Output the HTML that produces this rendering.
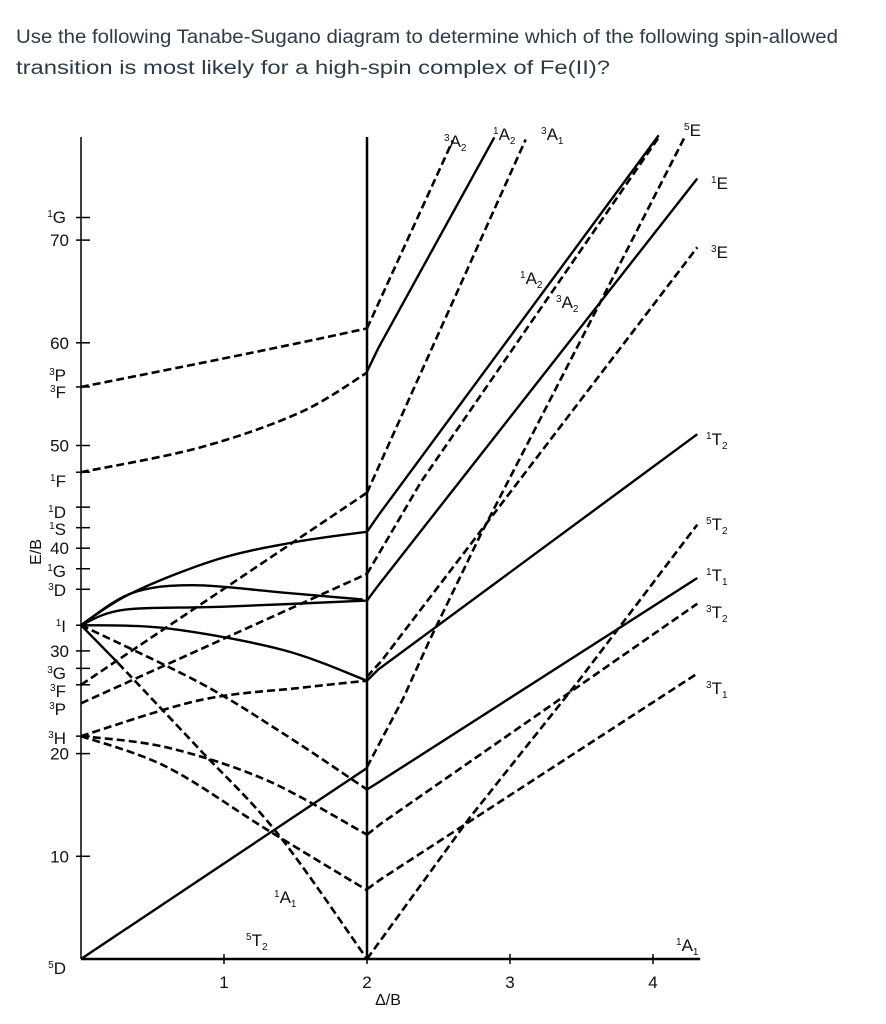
<!DOCTYPE html>
<html><head><meta charset="utf-8">
<style>
html,body{margin:0;padding:0;background:#fff;width:886px;height:1024px;overflow:hidden}
svg{display:block}
text{font-family:"Liberation Sans",sans-serif}
</style></head>
<body>
<svg id="chart" width="886" height="1024" viewBox="0 0 886 1024" xmlns="http://www.w3.org/2000/svg">
<g fill="#2d3b45" font-size="19">
<text x="16" y="43" textLength="822" lengthAdjust="spacingAndGlyphs">Use the following Tanabe-Sugano diagram to determine which of the following spin-allowed</text>
<text x="16" y="74" textLength="594" lengthAdjust="spacingAndGlyphs">transition is most likely for a high-spin complex of Fe(II)?</text>
</g>
<g id="axes"></g>
<g id="curves"></g>
<g id="labels" font-size="17" fill="#111"></g>
</svg>
<script>
// axis data
const xTicks = [1, 2, 3, 4];
const yTicks = [10, 20, 30, 40, 50, 60, 70];
const termTicks = [72.2, 55.7, 47.4, 44, 42, 38, 36, 32.5, 28.3, 26.7, 21.7];
// curves: [Δ/B, E/B]
const c5T2left = [[0,0],[2,18.6]];
const c3Pupper = [[0,55.7],[0.83,58.0],[1.53,60.0],[2,61.4]];
const c1Fcurve = [[0,47.4],[0.83,49.8],[1.53,53.2],[2,57.1]];
const c3Gline = [[0,26.7],[2,45.4]];
const c3Fline = [[0,24.9],[2,37.5]];
const c1Irise = [[0,32.5],[0.35,35.6],[0.95,38.9],[1.5,40.6],[2,41.6]];
const c1Ibump = [[0,32.5],[0.35,35.6],[0.78,36.4],[1.4,35.7],[1.97,35.0]];
const c1Iflat = [[0,32.5],[0.3,34.0],[1.0,34.3],[2,34.9]];
const c1Idesc = [[0,32.5],[0.6,32.2],[1.41,30.1],[2,27.1]];
const c1Idash = [[0,32.5],[0.83,26.9],[1.41,22.0],[2,16.5]];
const c1A1solid = [[0,32.5],[0.26,28.8]];
const c1A1dash = [[0.26,28.8],[0.83,20.4],[1.37,12.3],[2,0]];
const c3Hrise = [[0,21.7],[0.83,25.2],[1.53,26.4],[2,27.1]];
const c3Hmid = [[0,21.7],[0.6,20.6],[1.3,17.4],[2,12.1]];
const c3Hlow = [[0,21.7],[0.6,18.7],[1.3,12.6],[2,6.7]];
const r3A2top = [[2,61.4],[2.6,79.7]];
const r1A2top = [[2,57.2],[2.08,59.5],[2.89,80]];
const r3A1 = [[2,45.4],[3.11,79.8]];
const r1A2mid = [[2,41.6],[2.08,43.2],[4.04,80.2]];
const r3A2mid = [[2,37.5],[2.38,46.5],[4.04,80]];
const r1E = [[2,34.9],[2.08,36.4],[4.31,76]];
const r5E = [[2,18.7],[2.25,25.3],[2.44,31.1],[2.79,41.2],[3.63,63.9],[4.22,80]];
const r3E = [[2,27.5],[2.1,29.0],[4.31,69.3]];
const r1T2 = [[2,27.1],[2.08,28.2],[4.31,51.1]];
const r1T1 = [[2,16.5],[2.08,17.2],[4.31,37.1]];
const r3T2 = [[2,12.1],[2.1,13.2],[4.31,34.6]];
const r3T1 = [[2,6.8],[2.1,7.8],[4.31,27.8]];
const r5T2 = [[2,0],[2.72,13.8],[3.47,26.9],[4.31,42.3]];

const X0=81, XS=143, Y0=959, YS=10.27;
const px = d => X0 + XS*d;
const py = e => Y0 - YS*e;
const NS = 'http://www.w3.org/2000/svg';
const axes = document.getElementById('axes');
const curves = document.getElementById('curves');
const labels = document.getElementById('labels');

function line(g, x1,y1,x2,y2,w){
  const l=document.createElementNS(NS,'line');
  l.setAttribute('x1',x1);l.setAttribute('y1',y1);l.setAttribute('x2',x2);l.setAttribute('y2',y2);
  l.setAttribute('stroke','#000');l.setAttribute('stroke-width',w);
  g.appendChild(l);return l;
}
let a=line(axes,X0,137,X0,Y0,1.5);


a=line(axes,X0,Y0,px(4.33),Y0,2.5);


a=line(axes,px(2),137,px(2),Y0,2.5);


xTicks.forEach(t=>{
  const l=line(axes,px(t),Y0-5,px(t),Y0+5,1.5);
  
  
  const tx=document.createElementNS(NS,'text');
  tx.setAttribute('x',px(t));tx.setAttribute('y',988);tx.setAttribute('text-anchor','middle');
  tx.setAttribute('font-size','17');tx.textContent=t;
  
  
  labels.appendChild(tx);
});
yTicks.concat(termTicks).forEach((t,i)=>{
  const l=line(axes,X0-5,py(t),X0+9,py(t),1.5);
  
  
});
yTicks.forEach(t=>{
  const tx=document.createElementNS(NS,'text');
  tx.setAttribute('x',X0-12);tx.setAttribute('y',py(t)+6);tx.setAttribute('text-anchor','end');
  tx.setAttribute('font-size','17');tx.textContent=t;
  
  
  labels.appendChild(tx);
});

function smoothPath(data){
  const P=data.map(q=>[px(q[0]),py(q[1])]);
  let d='M'+P[0][0].toFixed(1)+' '+P[0][1].toFixed(1);
  for(let i=0;i<P.length-1;i++){
    const p0=P[i-1]||P[i], p1=P[i], p2=P[i+1], p3=P[i+2]||P[i+1];
    const c1=[p1[0]+(p2[0]-p0[0])/6, p1[1]+(p2[1]-p0[1])/6];
    const c2=[p2[0]-(p3[0]-p1[0])/6, p2[1]-(p3[1]-p1[1])/6];
    d+=' C'+c1[0].toFixed(1)+' '+c1[1].toFixed(1)+' '+c2[0].toFixed(1)+' '+c2[1].toFixed(1)+' '+p2[0].toFixed(1)+' '+p2[1].toFixed(1);
  }
  return d;
}
function polyPath(data){
  return data.map((q,i)=>(i?'L':'M')+px(q[0]).toFixed(1)+' '+py(q[1]).toFixed(1)).join(' ');
}
function curve(data,dashed,name,smooth){
  const p=document.createElementNS(NS,'path');
  p.setAttribute('d',smooth?smoothPath(data):polyPath(data));
  p.setAttribute('fill','none');p.setAttribute('stroke','#000');
  p.setAttribute('stroke-width',dashed?2.6:2.4);
  p.setAttribute('stroke-linejoin','round');
  if(dashed)p.setAttribute('stroke-dasharray','8 4');
  
  
  curves.appendChild(p);
}
curve(c5T2left,false,'curve-5T2-left',false);
curve(c3Pupper,true,'curve-3P-upper',true);
curve(c1Fcurve,true,'curve-1F',true);
curve(c3Gline,true,'curve-3G',false);
curve(c3Fline,true,'curve-3F',false);
curve(c1Irise,false,'curve-1I-rise',true);
curve(c1Ibump,false,'curve-1I-bump',true);
curve(c1Iflat,false,'curve-1I-flat',true);
curve(c1Idesc,false,'curve-1I-descending',true);
curve(c1Idash,true,'curve-1I-dashed',true);
curve(c1A1solid,false,'curve-1A1-start',false);
curve(c1A1dash,true,'curve-1A1-left',true);
curve(c3Hrise,true,'curve-3H-rise',true);
curve(c3Hmid,true,'curve-3H-mid',true);
curve(c3Hlow,true,'curve-3H-low',true);
curve(r3A2top,true,'curve-3A2-top',false);
curve(r1A2top,false,'curve-1A2-top',false);
curve(r3A1,true,'curve-3A1',false);
curve(r1A2mid,false,'curve-1A2-mid',false);
curve(r3A2mid,true,'curve-3A2-mid',false);
curve(r1E,false,'curve-1E',false);
curve(r5E,true,'curve-5E',false);
curve(r3E,true,'curve-3E',false);
curve(r1T2,false,'curve-1T2',false);
curve(r1T1,false,'curve-1T1',false);
curve(r3T2,true,'curve-3T2',false);
curve(r3T1,true,'curve-3T1',false);
curve(r5T2,true,'curve-5T2-right',false);

// term labels: [sup, main, sub, x, y, anchor]
const termLabels = [
 ['1','G','',66,223,'end'],['3','P','',66,381,'end'],['3','F','',66,398,'end'],
 ['1','F','',66,487,'end'],['1','D','',66,518,'end'],['1','S','',66,535,'end'],
 ['1','G','',66,577,'end'],['3','D','',66,596,'end'],['1','I','',66,632,'end'],
 ['3','G','',66,679,'end'],['3','F','',66,697,'end'],['3','P','',66,715,'end'],
 ['3','H','',66,744,'end'],['5','D','',66,974,'end'],
 ['3','A','2',444,147,'start'],['1','A','2',493,140,'start'],['3','A','1',541,140,'start'],
 ['5','E','',684,136,'start'],['1','E','',711,189,'start'],['3','E','',711,258,'start'],
 ['1','A','2',520,284,'start'],['3','A','2',556,308,'start'],
 ['1','T','2',706,445,'start'],['5','T','2',706,530,'start'],['1','T','1',706,581,'start'],
 ['3','T','2',706,618,'start'],['3','T','1',706,694,'start'],['1','A','1',676,951,'start'],
 ['5','T','2',246,946,'start'],['1','A','1',274,903,'start']
];
termLabels.forEach(t=>{
  const tx=document.createElementNS(NS,'text');
  tx.setAttribute('x',t[3]);tx.setAttribute('y',t[4]);tx.setAttribute('text-anchor',t[5]);
  tx.setAttribute('font-size','17');
  
  
  const s1=document.createElementNS(NS,'tspan');s1.setAttribute('font-size','10');s1.setAttribute('dy','-6');s1.textContent=t[0];
  const s2=document.createElementNS(NS,'tspan');s2.setAttribute('dy','6');s2.textContent=t[1];
  tx.appendChild(s1);tx.appendChild(s2);
  if(t[2]){const s3=document.createElementNS(NS,'tspan');s3.setAttribute('font-size','10');s3.setAttribute('dy','4');s3.textContent=t[2];tx.appendChild(s3);}
  labels.appendChild(tx);
});
const yt=document.createElementNS(NS,'text');
yt.setAttribute('transform','translate(41,552) rotate(-90)');yt.setAttribute('text-anchor','middle');
yt.setAttribute('font-size','16');yt.textContent='E/B';


labels.appendChild(yt);
const xt=document.createElementNS(NS,'text');
xt.setAttribute('x',388);xt.setAttribute('y',1005);xt.setAttribute('text-anchor','middle');
xt.setAttribute('font-size','16');xt.textContent='Δ/B';


labels.appendChild(xt);
</script>
</body></html>
